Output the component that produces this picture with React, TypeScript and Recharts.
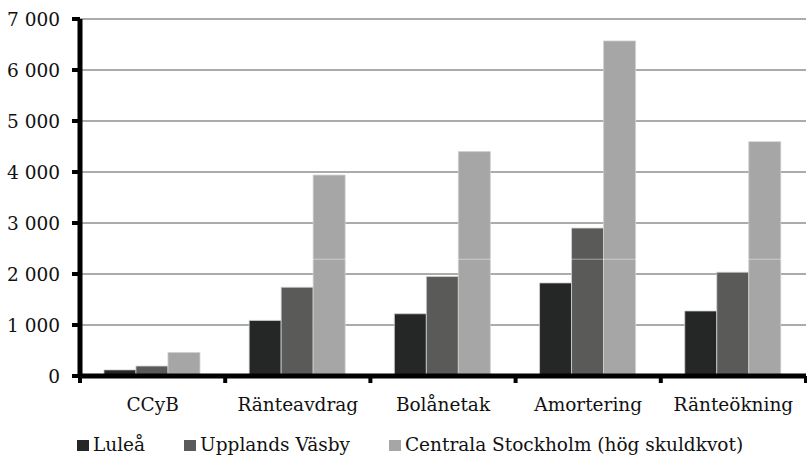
import React from 'react';
import {
  BarChart, Bar, XAxis, YAxis, CartesianGrid, Legend, ReferenceLine,
} from 'recharts';

// Åtgärder längs x-axeln
const categories = ['CCyB', 'Ränteavdrag', 'Bolånetak', 'Amortering', 'Ränteökning'];

// Värden per område
const lulea = [120, 1090, 1220, 1825, 1275];
const upplandsVasby = [195, 1740, 1950, 2900, 2035];
const centralaStockholm = [460, 3940, 4400, 6570, 4595];

const yTicks = [0, 1000, 2000, 3000, 4000, 5000, 6000, 7000];

const series = [
  { key: 'lulea', name: 'Luleå', color: '#252726' },
  { key: 'upplands', name: 'Upplands Väsby', color: '#5a5a59' },
  { key: 'centrala', name: 'Centrala Stockholm (hög skuldkvot)', color: '#a6a6a6' },
];

const data = categories.map((c, i) => ({
  name: c,
  lulea: lulea[i],
  upplands: upplandsVasby[i],
  centrala: centralaStockholm[i],
}));

const FONT = 'DejaVu Serif';
const FONT_SIZE = 18.5;
const TICK_SIZE = 7;
const TICK_MARGIN = 15;

const fmt = (v: number) => String(v).replace(/\B(?=(\d{3})+(?!\d))/g, ' ');

// kategorietikett + streck vid gränserna mellan grupperna
function CategoryTick(props: any) {
  const { x, y, payload, index, visibleTicksCount } = props;
  const half = payload?.offset ?? 72.6;
  const axisY = y - TICK_SIZE - TICK_MARGIN;
  const mark = (mx: number) => (
    <line x1={mx} x2={mx} y1={axisY} y2={axisY + TICK_SIZE} stroke="#000" strokeWidth={4} />
  );
  return (
    <g>
      {mark(x - half)}
      {index === visibleTicksCount - 1 && mark(x + half)}
      <text x={x} y={y} dy="0.71em" textAnchor="middle" fill="#111" fontSize={FONT_SIZE} fontFamily={FONT}>
        {payload.value}
      </text>
    </g>
  );
}

function LegendRow() {
  return (
    <div
      style={{
        height: 30,
        lineHeight: '35px',
        display: 'flex',
        gap: 39,
        paddingLeft: 77,
        fontFamily: FONT,
        fontSize: FONT_SIZE,
        color: '#111',
        whiteSpace: 'nowrap',
      }}
    >
      {series.map(s => (
        <span key={s.key}>
          <span
            style={{
              display: 'inline-block',
              width: 12,
              height: 11,
              marginRight: 4,
              background: s.color,
              verticalAlign: 'baseline',
            }}
          />
          {s.name}
        </span>
      ))}
    </div>
  );
}

export default function App() {
  return (
    <div style={{ position: 'absolute', left: 0, top: 0, background: '#fff' }}>
      <BarChart
        width={807}
        height={457}
        data={data}
        margin={{ top: 19, right: 1, bottom: 0, left: 0 }}
        barCategoryGap="16.5%"
        barGap={0}
        style={{ fontFamily: FONT }}
      >
        <CartesianGrid vertical={false} stroke="#8f8f8f" strokeWidth={1.3} />
        <XAxis
          dataKey="name"
          height={51}
          axisLine={{ stroke: '#000', strokeWidth: 5 }}
          tickLine={false}
          tickSize={TICK_SIZE}
          tickMargin={TICK_MARGIN}
          tick={<CategoryTick />}
          interval={0}
        />
        <YAxis
          width={80}
          domain={[0, 7000]}
          ticks={yTicks}
          tickFormatter={fmt}
          axisLine={{ stroke: '#000', strokeWidth: 5 }}
          tickLine={{ stroke: '#000', strokeWidth: 4 }}
          tickSize={8}
          tickMargin={12}
          tick={{ fill: '#111', fontSize: FONT_SIZE, fontFamily: FONT }}
        />
        <Legend verticalAlign="bottom" content={() => <LegendRow />} />
        {series.map(s => (
          <Bar
            key={s.key}
            dataKey={s.key}
            name={s.name}
            fill={s.color}
            stroke="#d0d0d0"
            strokeWidth={0.8}
            isAnimationActive={false}
          />
        ))}
        <ReferenceLine y={2290} stroke="#ffffff" strokeOpacity={0.45} strokeWidth={1} />
      </BarChart>
    </div>
  );
}
